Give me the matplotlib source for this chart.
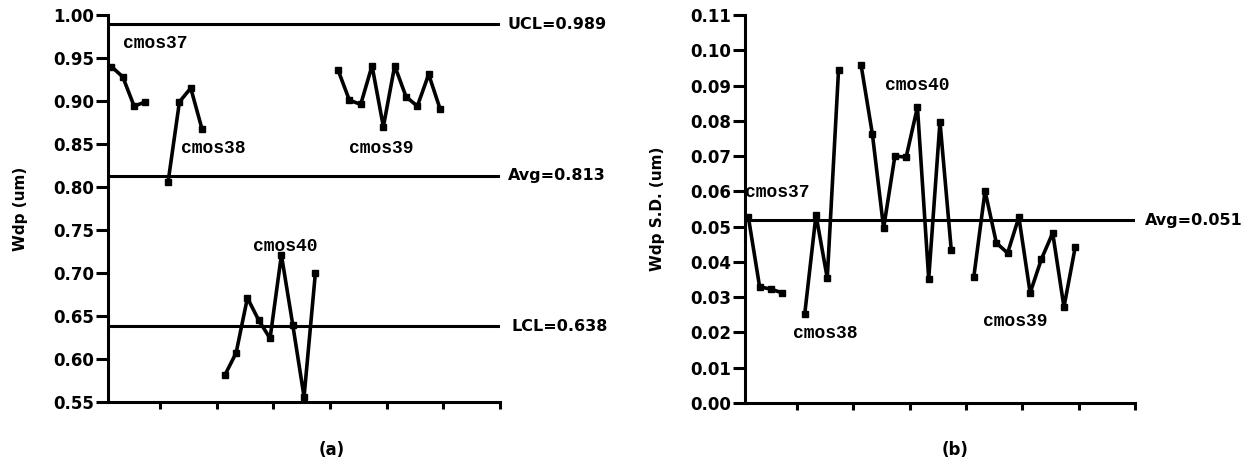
import matplotlib
matplotlib.use('Agg')
from matplotlib import pyplot as plt
import numpy as np

plt.rcParams['font.family'] = ['DejaVu Sans']
plt.rcParams['font.weight'] = 'bold'

# wafer index of each lot on the x axis
x37 = [1, 2, 3, 4]
x38 = [6, 7, 8, 9]
x40 = [11, 12, 13, 14, 15, 16, 17, 18, 19]
x39 = [21, 22, 23, 24, 25, 26, 27, 28, 29, 30]

# (a) mean Wdp
wdp37 = [0.940, 0.928, 0.894, 0.899]
wdp38 = [0.806, 0.899, 0.915, 0.867]
wdp40 = [0.581, 0.607, 0.671, 0.645, 0.624, 0.721, 0.640, 0.556, 0.700]
wdp39 = [0.936, 0.901, 0.896, 0.941, 0.870, 0.941, 0.905, 0.894, 0.931, 0.891]
ucl, avg_a, lcl = 0.989, 0.813, 0.638

# (b) Wdp standard deviation
sd37 = [0.0527, 0.0329, 0.0323, 0.0312]
sd38 = [0.0252, 0.0533, 0.0354, 0.0944]
sd40 = [0.0958, 0.0763, 0.0496, 0.0700, 0.0697, 0.0839, 0.0352, 0.0797, 0.0434]
sd39 = [0.0357, 0.0601, 0.0454, 0.0425, 0.0527, 0.0312, 0.0408, 0.0482, 0.0272, 0.0442]
avg_b = 0.0518

fig = plt.figure(figsize=(12.58, 4.70), dpi=100)
ax1 = fig.add_axes([0.0859, 0.1447, 0.3116, 0.8234])
ax2 = fig.add_axes([0.5922, 0.1426, 0.3100, 0.8255])

mono = dict(family=['Liberation Mono', 'DejaVu Sans Mono'], fontweight='bold', fontsize=13)
lbl = dict(fontweight='bold', fontsize=11.5)

def style(ax):
    ax.spines['top'].set_visible(False)
    ax.spines['right'].set_visible(False)
    ax.spines['left'].set_linewidth(2.2)
    ax.spines['bottom'].set_linewidth(2.2)
    ax.set_xlim(0.7, 35.3)
    ax.set_xticks(np.arange(5, 36, 5) + 0.3)
    ax.set_xticklabels([])
    ax.tick_params(axis='y', direction='out', length=9, width=2.2, labelsize=12, pad=1)
    ax.tick_params(axis='x', direction='out', length=5, width=2.2)
    for t in ax.get_yticklabels():
        t.set_fontweight('bold')

for xs, ys in [(x37, wdp37), (x38, wdp38), (x40, wdp40), (x39, wdp39)]:
    ax1.plot(xs, ys, color='black', lw=2.6, marker='s', ms=4.5, clip_on=False)
for v in [ucl, avg_a, lcl]:
    ax1.axhline(v, color='black', lw=2.2)
ax1.set_ylim(0.55, 1.00)
ax1.set_yticks(np.arange(0.55, 1.001, 0.05))
ax1.yaxis.set_major_formatter(matplotlib.ticker.FormatStrFormatter('%.2f'))
style(ax1)
ax1.set_ylabel('Wdp (um)', fontweight='bold', fontsize=11, labelpad=18)
tr1 = ax1.get_yaxis_transform()
ax1.text(1.02, ucl, 'UCL=0.989', transform=tr1, va='center', **lbl)
ax1.text(1.02, avg_a, 'Avg=0.813', transform=tr1, va='center', **lbl)
ax1.text(1.03, lcl, 'LCL=0.638', transform=tr1, va='center', **lbl)
ax1.text(2.0, 0.967, 'cmos37', va='center', **mono)
ax1.text(7.1, 0.845, 'cmos38', va='center', **mono)
ax1.text(22.0, 0.845, 'cmos39', va='center', **mono)
ax1.text(13.5, 0.731, 'cmos40', va='center', **mono)

for xs, ys in [(x37, sd37), (x38, sd38), (x40, sd40), (x39, sd39)]:
    ax2.plot(xs, ys, color='black', lw=2.6, marker='s', ms=4.5, clip_on=False)
ax2.axhline(avg_b, color='black', lw=2.2)
ax2.set_ylim(0.0, 0.11)
ax2.set_yticks(np.arange(0.0, 0.111, 0.01))
ax2.yaxis.set_major_formatter(matplotlib.ticker.FormatStrFormatter('%.2f'))
style(ax2)
ax2.set_ylabel('Wdp S.D. (um)', fontweight='bold', fontsize=11, labelpad=18)
tr2 = ax2.get_yaxis_transform()
ax2.text(1.025, avg_b, 'Avg=0.051', transform=tr2, va='center', **lbl)
ax2.text(0.7, 0.0598, 'cmos37', va='center', **mono)
ax2.text(5.0, 0.0196, 'cmos38', va='center', **mono)
ax2.text(13.1, 0.0900, 'cmos40', va='center', **mono)
ax2.text(21.8, 0.0232, 'cmos39', va='center', **mono)

fig.text(332 / 1258, 1 - 450 / 470, '(a)', ha='center', va='center', fontweight='bold', fontsize=12)
fig.text(955 / 1258, 1 - 450 / 470, '(b)', ha='center', va='center', fontweight='bold', fontsize=12)

fig.savefig('out.png', dpi=100)
